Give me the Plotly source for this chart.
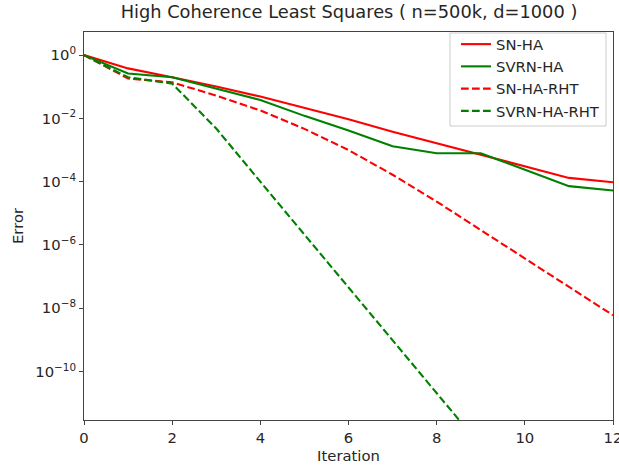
import plotly.graph_objects as go

iterations = list(range(13))
# log10 of error
sn_ha_log = [0, -0.42, -0.70, -0.99, -1.31, -1.67, -2.03, -2.42, -2.79, -3.16, -3.53, -3.88, -4.02]
svrn_ha_log = [0, -0.58, -0.70, -1.05, -1.42, -1.92, -2.38, -2.88, -3.10, -3.10, -3.62, -4.14, -4.28]
sn_ha_rht_log = [0, -0.74, -0.86, -1.28, -1.75, -2.33, -3.00, -3.78, -4.63, -5.53, -6.42, -7.32, -8.22]
svrn_ha_rht_log = [0, -0.70, -0.90, -2.32, -4.00, -5.67, -7.34, -9.01, -10.68, -12.35]

series = [
    ("SN-HA", sn_ha_log, "#ff0000", "solid"),
    ("SVRN-HA", svrn_ha_log, "#008000", "solid"),
    ("SN-HA-RHT", sn_ha_rht_log, "#ff0000", "7.7px,3.3px"),
    ("SVRN-HA-RHT", svrn_ha_rht_log, "#008000", "7.7px,3.3px"),
]

ytick_exps = [0, -2, -4, -6, -8, -10]
xtick_vals = [0, 2, 4, 6, 8, 10, 12]

fig = go.Figure()
for name, logs, color, dash in series:
    fig.add_trace(go.Scatter(
        x=iterations[:len(logs)],
        y=[10 ** v for v in logs],
        mode="lines",
        name=name,
        line=dict(color=color, width=2.1, dash=dash),
    ))

font = "DejaVu Sans, sans-serif"
txt = "#262626"
# legend frame (matplotlib-style box)
fig.add_shape(type="rect", xref="paper", yref="paper",
              x0=(450 - 84) / 529, x1=(606 - 84) / 529,
              y0=1 - 94 / 388, y1=1 - 1 / 388,
              line=dict(color="#cccccc", width=1), fillcolor="rgba(255,255,255,0.8)",
              layer="above")
fig.update_layout(
    width=619, height=470,
    margin=dict(l=84, r=6, t=32, b=50),
    paper_bgcolor="white", plot_bgcolor="white",
    font=dict(family=font, size=14.8, color=txt),
    title=dict(text="High Coherence Least Squares ( n=500k, d=1000 )",
               x=349 / 619, xanchor="center", xref="container",
               y=1 - 12 / 470, yanchor="middle", yref="container",
               font=dict(size=17.8, family=font, color=txt)),
    legend=dict(x=(605 - 84) / 529, xanchor="right", y=1 + 4 / 388, yanchor="top",
                borderwidth=0, bgcolor="rgba(0,0,0,0)",
                font=dict(size=14.8, family=font, color=txt)),
    showlegend=True,
)
fig.update_xaxes(
    range=[0, 12], tickvals=xtick_vals, ticktext=[str(v) for v in xtick_vals],
    showgrid=False, zeroline=False, showline=True, linecolor="#444444", linewidth=1.1,
    mirror=True, ticks="outside", ticklen=4, tickcolor="#444444", automargin=False,
    ticklabeloverflow="allow",
    tickfont=dict(size=14.8, family=font, color=txt),
    title=dict(text="Iteration", font=dict(size=14.8, family=font, color=txt), standoff=5),
)
fig.update_yaxes(
    type="log", range=[-11.53, 0.73],
    tickvals=[10 ** e for e in ytick_exps],
    ticktext=["10<sup>%d</sup>" % e if e == 0 else "10<sup>\u2212%d</sup>" % (-e) for e in ytick_exps],
    showgrid=False, zeroline=False, showline=True, linecolor="#444444", linewidth=1.1,
    mirror=True, ticks="outside", ticklen=4, tickcolor="#444444", automargin=False,
    ticklabeloverflow="allow",
    tickfont=dict(size=14.8, family=font, color=txt),
    title=dict(text="Error", font=dict(size=14.8, family=font, color=txt), standoff=8),
)
fig.write_html("out.html", config={"displayModeBar": False},
               post_script="document.body.style.margin='0';")
